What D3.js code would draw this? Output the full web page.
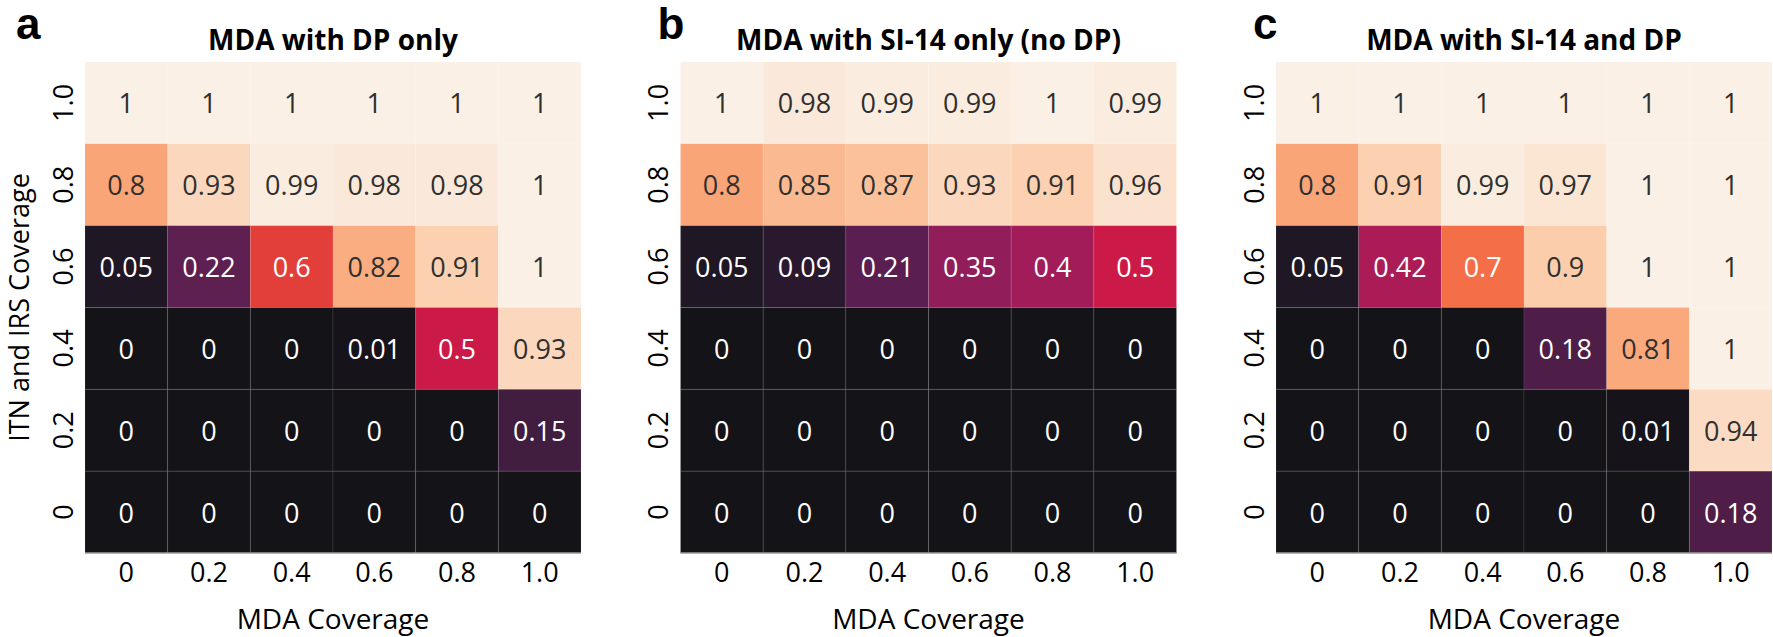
<!DOCTYPE html>
<html>
<head>
<meta charset="utf-8">
<script src="https://cdn.jsdelivr.net/npm/d3@7"></script>
<style>
  html, body { margin: 0; padding: 0; background: #ffffff; }
  svg { display: block; }
</style>
</head>
<body>
<svg id="chart" width="1773" height="637"></svg>
<script>
// ---- data ----
const xCategories = ["0", "0.2", "0.4", "0.6", "0.8", "1.0"];   // MDA coverage
const yCategories = ["1.0", "0.8", "0.6", "0.4", "0.2", "0"];   // ITN and IRS coverage (top to bottom)
const panelLetters = ["a", "b", "c"];
const panelTitles = ["MDA with DP only", "MDA with SI-14 only (no DP)", "MDA with SI-14 and DP"];
const xAxisTitle = "MDA Coverage";
const yAxisTitle = "ITN and IRS Coverage";

const valuesDPOnly = [
  [1, 1, 1, 1, 1, 1],
  [0.8, 0.93, 0.99, 0.98, 0.98, 1],
  [0.05, 0.22, 0.6, 0.82, 0.91, 1],
  [0, 0, 0, 0.01, 0.5, 0.93],
  [0, 0, 0, 0, 0, 0.15],
  [0, 0, 0, 0, 0, 0]
];
const valuesSI14Only = [
  [1, 0.98, 0.99, 0.99, 1, 0.99],
  [0.8, 0.85, 0.87, 0.93, 0.91, 0.96],
  [0.05, 0.09, 0.21, 0.35, 0.4, 0.5],
  [0, 0, 0, 0, 0, 0],
  [0, 0, 0, 0, 0, 0],
  [0, 0, 0, 0, 0, 0]
];
const valuesSI14andDP = [
  [1, 1, 1, 1, 1, 1],
  [0.8, 0.91, 0.99, 0.97, 1, 1],
  [0.05, 0.42, 0.7, 0.9, 1, 1],
  [0, 0, 0, 0.18, 0.81, 1],
  [0, 0, 0, 0, 0.01, 0.94],
  [0, 0, 0, 0, 0, 0.18]
];
const panelValues = [valuesDPOnly, valuesSI14Only, valuesSI14andDP];

// rocket-like colormap stops
const colorStops = [0, 0.1, 0.2, 0.3, 0.4, 0.5, 0.6, 0.7, 0.8, 0.9, 1.0];
const colorRange = ["#141318", "#2c1a30", "#561f4f", "#7f1e5b", "#a31c5a", "#cc1a48",
                    "#e33f3a", "#f46f48", "#f9a577", "#fccdab", "#faf0e6"];

// ---- layout ----
const svg = d3.select("#chart");
const font = "'Open Sans', 'Noto Sans', sans-serif";
const panelLeft0 = 85, panelStep = 595.5, panelTop = 62, panelW = 496, panelH = 491;

const color = d3.scaleLinear().domain(colorStops).range(colorRange).clamp(true);

function lum(c) {
  const rgb = d3.rgb(c);
  const f = v => { v /= 255; return v <= 0.03928 ? v / 12.92 : Math.pow((v + 0.055) / 1.055, 2.4); };
  return 0.2126 * f(rgb.r) + 0.7152 * f(rgb.g) + 0.0722 * f(rgb.b);
}

panelValues.forEach((vals, p) => {
  const left = panelLeft0 + p * panelStep;
  const g = svg.append("g").attr("transform", `translate(${left},${panelTop})`);
  const x = d3.scaleBand().domain(xCategories).range([0, panelW]).padding(0);
  const y = d3.scaleBand().domain(yCategories).range([0, panelH]).padding(0);

  const cells = [];
  vals.forEach((row, i) => row.forEach((v, j) => cells.push({ r: yCategories[i], c: xCategories[j], v })));

  g.selectAll("rect.cell").data(cells).enter().append("rect")
    .attr("class", "cell")
    .attr("x", d => x(d.c)).attr("y", d => y(d.r))
    .attr("width", x.bandwidth()).attr("height", y.bandwidth())
    .attr("fill", d => color(d.v))
    .attr("stroke", "#ffffff").attr("stroke-opacity", 0.09).attr("stroke-width", 1);

  g.selectAll("text.ann").data(cells).enter().append("text")
    .attr("class", "ann")
    .attr("x", d => x(d.c) + x.bandwidth() / 2)
    .attr("y", d => y(d.r) + y.bandwidth() / 2)
    .attr("text-anchor", "middle").attr("dominant-baseline", "central")
    .attr("font-family", font).attr("font-size", 27)
    .attr("fill", d => lum(color(d.v)) > 0.408 ? "#2f2f2f" : "#ffffff")
    .text(d => String(d.v));

  // bottom spine
  g.append("line").attr("x1", 0).attr("x2", panelW).attr("y1", panelH).attr("y2", panelH)
    .attr("stroke", "#9a9a9a").attr("stroke-width", 1.5);

  // x axis
  const xAxis = g.append("g").attr("transform", `translate(0,${panelH})`)
    .call(d3.axisBottom(x).tickSize(0).tickPadding(0));
  xAxis.select(".domain").remove();
  xAxis.selectAll("text").attr("font-family", font).attr("font-size", 27).attr("fill", "#000")
    .attr("dy", null).attr("y", 29);

  // y axis (rotated labels)
  const yAxis = g.append("g").call(d3.axisLeft(y).tickSize(0).tickPadding(0));
  yAxis.select(".domain").remove();
  yAxis.selectAll("text").attr("font-family", font).attr("font-size", 27).attr("fill", "#000")
    .attr("x", null).attr("dy", null)
    .attr("text-anchor", "middle").attr("dominant-baseline", "central")
    .attr("transform", "translate(-23,0) rotate(-90)");

  // x axis title
  g.append("text").attr("x", panelW / 2).attr("y", 629 - panelTop)
    .attr("text-anchor", "middle").attr("font-family", font).attr("font-size", 28).attr("fill", "#000")
    .text(xAxisTitle);

  // panel title
  g.append("text").attr("x", panelW / 2).attr("y", 50 - panelTop)
    .attr("text-anchor", "middle").attr("font-family", font).attr("font-weight", "bold")
    .attr("font-size", 28).attr("fill", "#000")
    .text(panelTitles[p]);

  // panel letter
  svg.append("text")
    .attr("x", p === 0 ? 16 : left - 23).attr("y", 39)
    .attr("font-family", "'Liberation Sans', Arial, sans-serif").attr("font-weight", "bold")
    .attr("font-size", 44).attr("fill", "#000")
    .text(panelLetters[p]);
});

// y axis title
svg.append("text")
  .attr("transform", `translate(29,${panelTop + panelH / 2}) rotate(-90)`)
  .attr("text-anchor", "middle").attr("font-family", font).attr("font-size", 27).attr("fill", "#000")
  .text(yAxisTitle);
</script>
</body>
</html>
